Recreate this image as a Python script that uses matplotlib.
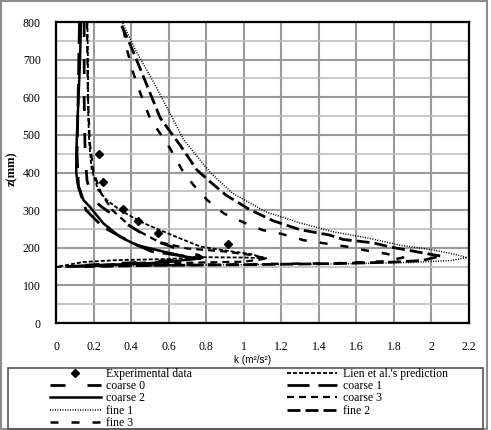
import matplotlib
matplotlib.use("Agg")
import matplotlib.pyplot as plt
from matplotlib.patches import Rectangle
from matplotlib.ticker import MultipleLocator

plt.rcParams['lines.scale_dashes'] = False

# ---------------- data (k in m2/s2, z in mm) ----------------
exp_k = [0.231, 0.249, 0.355, 0.435, 0.545, 0.915]
exp_z = [449, 376, 302, 271, 240, 209]

lien_k = [0.167, 0.170, 0.172, 0.177, 0.19, 0.225, 0.27, 0.341, 0.464, 0.554, 0.66, 0.77, 0.94, 1.03, 1.12,
          1.0, 0.77, 0.59, 0.32, 0.145, 0.0]
lien_z = [800, 700, 545, 480, 407, 353, 327, 300, 266, 247, 225, 203, 190, 184, 172,
          174, 175, 170, 167, 162, 149]

coarse0_k = [0.15, 0.15, 0.155, 0.165, 0.19, 0.243, 0.34, 0.40, 0.50, 0.563, 0.69, 0.76, 0.78,
             0.6, 0.4, 0.2, 0.05]
coarse0_z = [800, 600, 450, 380, 331, 309, 274, 256, 225, 212, 190, 180, 174,
             166, 160, 155, 150]

coarse1_k = [0.125, 0.118, 0.112, 0.12, 0.16, 0.25, 0.41, 0.51, 0.65, 0.77,
             0.6, 0.4, 0.2, 0.05]
coarse1_z = [800, 600, 450, 360, 300, 255, 212, 190, 180, 172,
             163, 158, 153, 150]

coarse2_k = [0.133, 0.128, 0.12, 0.113, 0.108, 0.108, 0.115, 0.128, 0.146, 0.18, 0.252, 0.341, 0.43, 0.57, 0.696, 0.75,
             0.6, 0.4, 0.2, 0.1]
coarse2_z = [800, 700, 600, 520, 450, 400, 370, 354, 327, 309, 265, 229, 207, 190, 176, 172,
             162, 156, 152, 150]

coarse3_k = [0.165, 0.17, 0.18, 0.2, 0.24, 0.3, 0.4, 0.55, 0.7, 0.9, 1.05, 1.12,
             1.0, 0.7, 0.4, 0.15, 0.0]
coarse3_z = [800, 600, 480, 400, 345, 300, 255, 215, 198, 190, 180, 171,
             163, 160, 157, 152, 149]

fine1_k = [0.355, 0.426, 0.52, 0.62, 0.68, 0.82, 0.94, 1.12, 1.30, 1.48, 1.66, 1.83, 2.01, 2.12, 2.19,
           2.1, 1.9, 1.5, 1.0, 0.5, 0.15]
fine1_z = [797, 723, 640, 545, 487, 401, 345, 295, 266, 242, 226, 207, 194, 183, 174,
           166, 161, 157, 155, 153, 150]

fine2_k = [0.35, 0.41, 0.555, 0.665, 0.75, 0.815, 0.905, 1.03, 1.155, 1.30, 1.455, 1.53, 1.69, 1.78, 1.87, 1.99, 2.05,
           1.95, 1.8, 1.5, 1.0, 0.5, 0.15]
fine2_z = [790, 723, 545, 470, 407, 378, 340, 302, 272, 248, 234, 222, 213, 202, 194, 183, 178,
           166, 162, 158, 155, 153, 150]

fine3_k = [0.36, 0.38, 0.41, 0.45, 0.50, 0.61, 0.67, 0.73, 0.805, 0.895, 1.0, 1.1, 1.2, 1.32, 1.44, 1.55, 1.66, 1.76, 1.85,
           1.75, 1.5, 1.0, 0.5, 0.15]
fine3_z = [780, 723, 667, 610, 545, 462, 408, 368, 327, 291, 267, 247, 237, 220, 211, 203, 192, 184, 174,
           164, 159, 156, 153, 150]

x_ticks = [0, 0.2, 0.4, 0.6, 0.8, 1, 1.2, 1.4, 1.6, 1.8, 2, 2.2]
x_tick_labels = ['0', '0.2', '0.4', '0.6', '0.8', '1', '1.2', '1.4', '1.6', '1.8', '2', '2.2']
y_ticks = [0, 100, 200, 300, 400, 500, 600, 700, 800]

# ---------------- figure ----------------
W, H = 491, 430
fig = plt.figure(figsize=(W / 100, H / 100), dpi=100)
ax = fig.add_axes([56 / W, 1 - 323 / H, 413 / W, 301 / H])

serif = 'Liberation Serif'
px = 0.72  # points per pixel

styles = {
    'lien':    dict(color='black', lw=1.3, ls=(0, (4 * px, 2 * px))),
    'coarse0': dict(color='black', lw=2.0, ls=(0, (15 * px, 22 * px))),
    'coarse1': dict(color='black', lw=2.0, ls=(0, (22 * px, 9 * px))),
    'coarse2': dict(color='black', lw=1.8, ls='-'),
    'coarse3': dict(color='black', lw=1.6, ls=(0, (7 * px, 5 * px))),
    'fine1':   dict(color='black', lw=1.1, ls=(0, (1 * px, 1.5 * px))),
    'fine2':   dict(color='black', lw=2.0, ls=(0, (13 * px, 5 * px))),
    'fine3':   dict(color='black', lw=1.8, ls=(0, (8 * px, 13 * px))),
}

l_lien, = ax.plot(lien_k, lien_z, **styles['lien'])
l_c0, = ax.plot(coarse0_k, coarse0_z, **styles['coarse0'])
l_c1, = ax.plot(coarse1_k, coarse1_z, **styles['coarse1'])
l_c2, = ax.plot(coarse2_k, coarse2_z, **styles['coarse2'])
l_c3, = ax.plot(coarse3_k, coarse3_z, **styles['coarse3'])
l_f1, = ax.plot(fine1_k, fine1_z, **styles['fine1'])
l_f2, = ax.plot(fine2_k, fine2_z, **styles['fine2'])
l_f3, = ax.plot(fine3_k, fine3_z, **styles['fine3'])
l_exp, = ax.plot(exp_k, exp_z, ls='none', marker='D', ms=4.3, color='black', zorder=5)

ax.set_xlim(0, 2.2)
ax.set_ylim(0, 800)
ax.set_xticks(x_ticks)
ax.set_xticklabels(x_tick_labels)
ax.set_yticks(y_ticks)
ax.yaxis.set_minor_locator(MultipleLocator(50))
ax.grid(True, which='major', color='#9a9a9a', lw=1.5)
ax.grid(True, which='minor', axis='y', color='#bdbdbd', lw=1.2)
ax.set_axisbelow(True)
ax.tick_params(which='both', length=0)
ax.tick_params(axis='x', pad=13, labelsize=8.5)
ax.tick_params(axis='y', pad=11, labelsize=8.5)
for lab in ax.get_xticklabels() + ax.get_yticklabels():
    lab.set_fontfamily(serif)
for sp in ax.spines.values():
    sp.set_color('black')
    sp.set_linewidth(1.6)

fig.text(12 / W, 1 - 169 / H, 'z(mm)', rotation=90, ha='center', va='center',
         fontfamily=serif, fontweight='bold', fontsize=9)
fig.text(253 / W, 1 - 360 / H, 'k (m\u00b2/s\u00b2)', ha='center', va='center',
         fontfamily='Liberation Sans', fontsize=7.2)

# outer chart border and legend box
fig.add_artist(Rectangle((1 / W, 1 / H), 486 / W, 428 / H, transform=fig.transFigure,
                         fill=False, edgecolor='#8c8c8c', lw=1.5))
fig.add_artist(Rectangle((8 / W, 1 / H), 475 / W, 61 / H, transform=fig.transFigure,
                         fill=False, edgecolor='#555555', lw=1.2))

handles = [l_exp, l_c0, l_c2, l_f1, l_f3, l_lien, l_c1, l_c3, l_f2]
labels = ['Experimental data', 'coarse 0', 'coarse 2', 'fine 1', 'fine 3',
          "Lien et al.'s prediction", 'coarse 1', 'coarse 3', 'fine 2']
fig.legend(handles, labels, ncol=2, loc='upper left', bbox_to_anchor=(50 / W, 1 - 368 / H),
           frameon=False, prop={'family': serif, 'size': 8.5}, handlelength=4.3,
           handletextpad=0.45, columnspacing=8.0, labelspacing=0.02, borderpad=0,
           borderaxespad=0)

fig.savefig('out.png', dpi=100)
